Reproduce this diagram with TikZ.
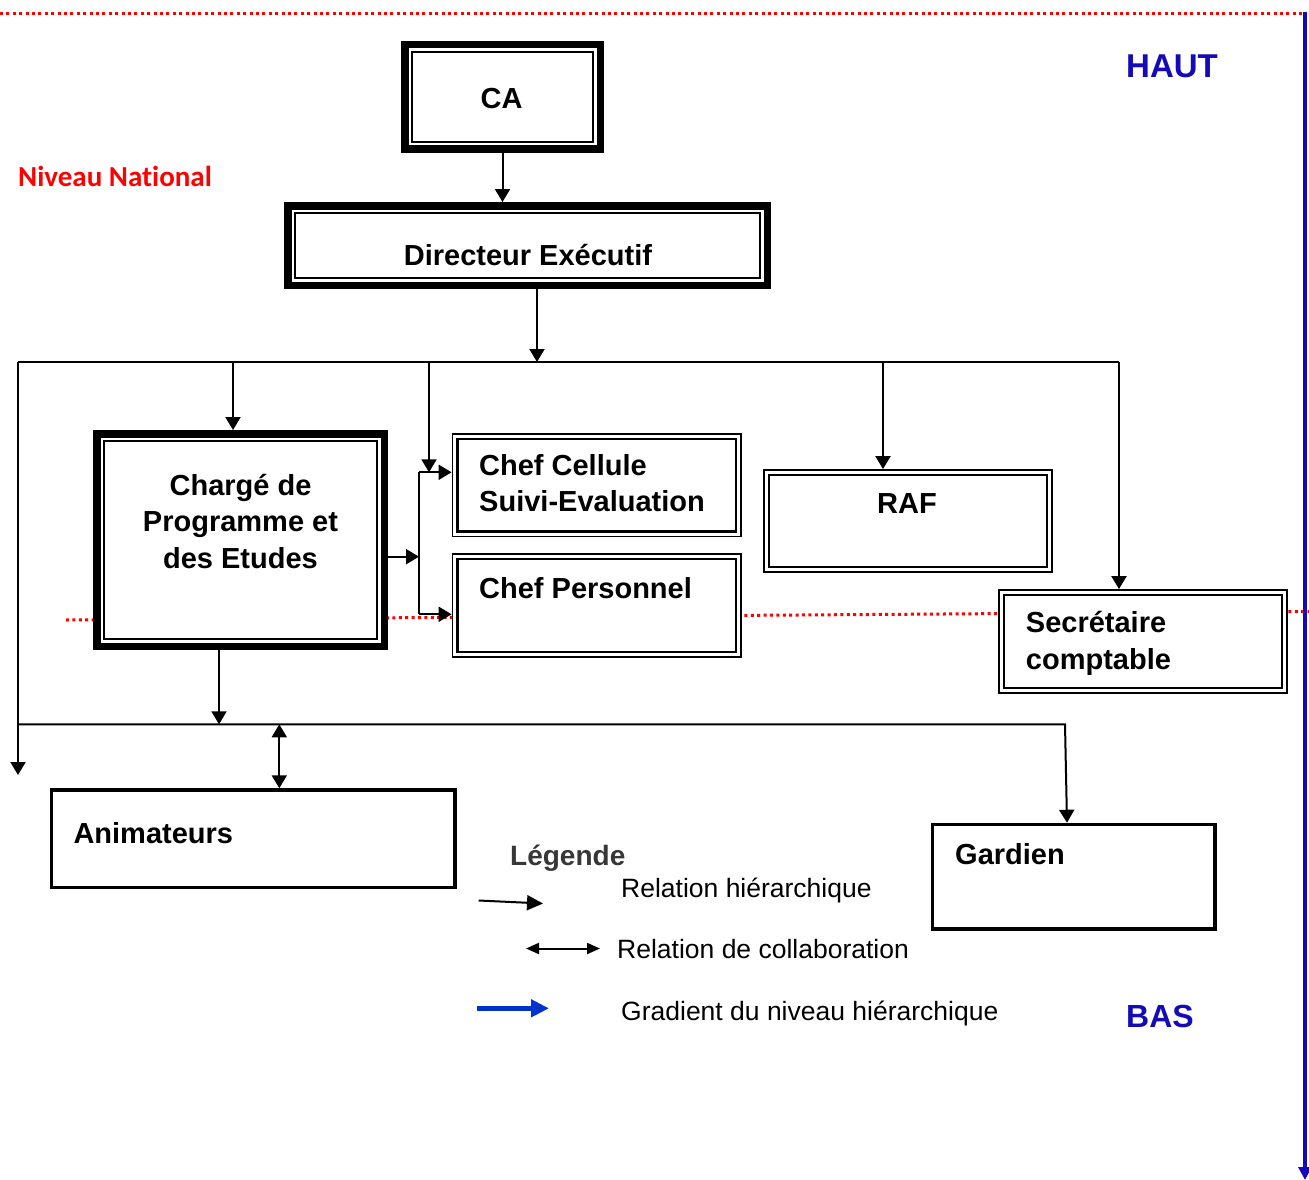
\documentclass[tikz,border=0pt]{standalone}
\usepackage{fontspec}
\setmainfont{Liberation Sans}
\newfontfamily\calibfont[Ligatures=NoCommon]{Carlito}
\usetikzlibrary{arrows.meta,calc}
\definecolor{hautblue}{RGB}{20,10,185}
\definecolor{legblue}{RGB}{0,51,204}
\definecolor{natred}{RGB}{255,0,0}
\definecolor{leggray}{RGB}{55,55,55}
\begin{document}
\begin{tikzpicture}[x=1pt,y=-1pt,
  thickdbl/.style={draw, line width=7.5pt, fill=white, inner sep=0pt,
    path picture={\draw[line width=1.8pt] ([shift={(7.5pt,-7.5pt)}]path picture bounding box.north west) rectangle ([shift={(-7.5pt,7.5pt)}]path picture bounding box.south east);}},
  thindbl/.style={draw, line width=1.8pt, fill=white, inner sep=0pt,
    path picture={\draw[line width=2.5pt] ([shift={(5pt,-5pt)}]path picture bounding box.north west) rectangle ([shift={(-5pt,5pt)}]path picture bounding box.south east);}},
  singlebox/.style={draw, line width=3.4pt, fill=white, inner sep=0pt},
  boxtxt/.style={font=\fontsize{29}{36.5}\selectfont\bfseries, inner sep=0pt},
  legtxt/.style={font=\fontsize{26.5}{32}\selectfont, inner sep=0pt, anchor=base west},
  conn/.style={line width=2pt},
  arr/.style={conn, -{Triangle[length=13pt,width=15pt]}},
  dblarr/.style={conn, {Triangle[length=13pt,width=15pt]}-{Triangle[length=13pt,width=15pt]}},
  dotred/.style={natred, line width=3pt, dash pattern=on 3pt off 3.4pt},
]
\useasboundingbox (0,0) rectangle (1309,1180);

% red dotted level lines
\draw[dotred] (0,13.3) -- (1302,13.3);
\draw[dotred] (66,620) -- (1309,611.5);

% boxes
\node[thickdbl, minimum width=195.5pt, minimum height=104.5pt] (ca) at (502.5,97) {};
\node[thickdbl, minimum width=479.5pt, minimum height=79.5pt] (de) at (527.5,245.5) {};
\node[thickdbl, minimum width=287.5pt, minimum height=212.5pt] (chg) at (240.5,540) {};
\node[thindbl, minimum width=288.5pt, minimum height=102.5pt] (cel) at (596.75,485.25) {};
\node[thindbl, minimum width=288.5pt, minimum height=103pt] (pers) at (596.75,605.5) {};
\node[thindbl, minimum width=288pt, minimum height=102pt] (raf) at (908,521) {};
\node[thindbl, minimum width=288pt, minimum height=103pt] (sec) at (1143,641.5) {};
\node[singlebox, minimum width=403.3pt, minimum height=97.7pt] (anim) at (253.3,838.8) {};
\node[singlebox, minimum width=282.5pt, minimum height=104.5pt] (gar) at (1073.7,876.7) {};

% box texts (base anchor = baseline of the last line)
\node[boxtxt, anchor=base] (ca-t) at (501.5,108.3) {CA};
\node[boxtxt, anchor=base] (de-t) at (528,265) {Directeur Exécutif};
\node[boxtxt, anchor=base, align=center] (chg-t) at (240.5,568.3) {Chargé de\\Programme et\\des Etudes};
\node[boxtxt, anchor=base west, align=left] (cel-t) at (479,511.7) {Chef Cellule\\Suivi-Evaluation};
\node[boxtxt, anchor=base west] (pers-t) at (479,598.3) {Chef Personnel};
\node[boxtxt, anchor=base] (raf-t) at (907,513.3) {RAF};
\node[boxtxt, anchor=base west, align=left] (sec-t) at (1025.7,669.3) {Secrétaire\\comptable};
\node[boxtxt, anchor=base west] (anim-t) at (73.3,843.3) {Animateurs};
\node[boxtxt, anchor=base west] (gar-t) at (955,864.3) {Gardien};

% side labels
\node[font=\calibfont\fontsize{29}{32}\selectfont\bfseries, text=natred, anchor=base west, inner sep=0pt] (nat) at (18,186) {Niveau National};
\node[font=\fontsize{33}{36}\selectfont\bfseries, text=hautblue, anchor=base west, inner sep=0pt] (haut) at (1126,77.3) {HAUT};
\node[font=\fontsize{32}{35}\selectfont\bfseries, text=hautblue, anchor=base west, inner sep=0pt] (bas) at (1126,1027.7) {BAS};
\draw[hautblue, line width=3.3pt, -{Triangle[length=13pt,width=13pt]}] (1305,12) -- (1305,1180);

% connector coordinates
\coordinate (busL) at (18,362);
\coordinate (busR) at (1119,362);
\coordinate (leftend) at (18,775);
\coordinate (brT) at (419,472.3);
\coordinate (brB) at (419,614.3);
\coordinate (brM) at (419,556.7);
\coordinate (tap) at (429,362);
\coordinate (bus2L) at (18,724.3);
\coordinate (bus2R) at (1065,724.3);
\coordinate (collab) at (279.3,724.3);

% connectors
\draw[arr] (ca.south) -- (ca.south |- de.north);
\draw[arr] ([xshift=9.5pt]de.south) -- ([xshift=9.5pt]de.south |- busL);
\draw[conn] (busL) -- (busR);
\draw[arr] (busL) -- (leftend);
\draw[arr] ([xshift=-7.5pt]chg.north |- busL) -- ([xshift=-7.5pt]chg.north);
\draw[arr] (tap) -- (tap |- brT);
\draw[arr] ([xshift=-25pt]raf.north |- busL) -- ([xshift=-25pt]raf.north);
\draw[arr] (busR) -- (busR |- sec.north);
\draw[conn] (brT) -- (brB);
\draw[arr] (brT) -- (brT -| cel.west);
\draw[arr] (brB) -- (brB -| pers.west);
\draw[arr] (chg.east |- brM) -- (brM);
\draw[arr] ([xshift=-21.5pt]chg.south) -- ([xshift=-21.5pt]chg.south |- bus2L);
\draw[arr] (bus2L) -- (bus2R) -- ([xshift=-6.7pt]gar.north);
\draw[dblarr] (collab) -- (collab |- anim.north);

% legend
\node[font=\fontsize{28}{32}\selectfont\bfseries, text=leggray, anchor=base west, inner sep=0pt] (leg) at (510,865) {Légende};
\node[legtxt] (l1) at (621,897) {Relation hiérarchique};
\node[legtxt] (l2) at (617,958) {Relation de collaboration};
\node[legtxt] (l3) at (621,1020) {Gradient du niveau hiérarchique};
\coordinate (h1) at (478.6,900.5);
\coordinate (h2) at (543,903.5);
\coordinate (c1) at (526,948.5);
\coordinate (c2) at (600,948.5);
\coordinate (g1) at (477,1008.3);
\coordinate (g2) at (549,1008.3);
\draw[conn, -{Triangle[length=16pt,width=15pt]}] (h1) -- (h2);
\draw[conn, {Triangle[length=13pt,width=11pt]}-{Triangle[length=13pt,width=11pt]}] (c1) -- (c2);
\draw[legblue, line width=5pt, -{Triangle[length=18pt,width=17pt]}] (g1) -- (g2);
\end{tikzpicture}
\end{document}
